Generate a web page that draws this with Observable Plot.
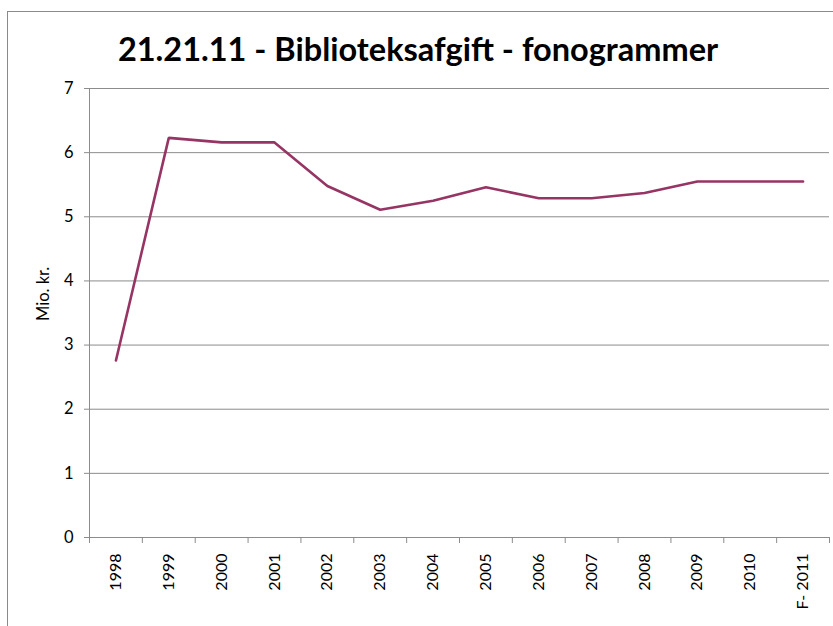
<!DOCTYPE html>
<html>
<head>
<meta charset="utf-8">
<script src="https://cdn.jsdelivr.net/npm/d3@7"></script>
<script src="https://cdn.jsdelivr.net/npm/@observablehq/plot@0.6"></script>
<style>
  html, body { margin: 0; padding: 0; background: #fff; overflow: hidden; }
  #wrap { position: relative; width: 833px; height: 626px; }
  #border { position: absolute; left: 7px; top: 11px; width: 900px; height: 700px;
            border-left: 1.5px solid #8a8a8a; border-top: 1.5px solid #8a8a8a; }
  #title { position: absolute; left: 0; top: 29px; width: 836px; text-align: center;
           font-family: Lato, sans-serif; font-weight: 700; font-size: 32.5px; color: #000; }
  #chart { position: absolute; left: 0; top: 0; }
</style>
</head>
<body>
<div id="wrap">
  <div id="border"></div>
  <div id="title">21.21.11 - Biblioteksafgift - fonogrammer</div>
  <div id="chart"></div>
</div>
<script>
const categories = ["1998","1999","2000","2001","2002","2003","2004","2005","2006","2007","2008","2009","2010","F- 2011"];
const values = [2.76, 6.23, 6.16, 6.16, 5.48, 5.11, 5.25, 5.46, 5.29, 5.29, 5.37, 5.55, 5.55, 5.55];
const yTicks = [0, 1, 2, 3, 4, 5, 6, 7];
const yLabel = "Mio. kr.";

const data = categories.map((c, i) => ({idx: i + 0.5, cat: c, value: values[i]}));
const edges = d3.range(categories.length + 1);
const centers = categories.map((c, i) => i + 0.5);

const grid = "#8c8c8c";
const plot = Plot.plot({
  width: 833,
  height: 626,
  marginLeft: 89,
  marginRight: 4,
  marginTop: 88,
  marginBottom: 89,
  style: {fontFamily: "Lato, sans-serif", background: "transparent", color: "#000"},
  x: {type: "linear", domain: [0, categories.length]},
  y: {domain: [0, 7]},
  marks: [
    Plot.gridY(yTicks, {stroke: grid, strokeOpacity: 1, strokeWidth: 1}),
    Plot.ruleX([0], {stroke: grid, strokeWidth: 1}),
    Plot.ruleY([0], {stroke: grid, strokeWidth: 1}),
    Plot.axisY({ticks: yTicks, tickSize: 5, tickPadding: 11, stroke: grid, fontSize: 16.5,
                tickFormat: "d", label: null}),
    Plot.axisX({ticks: edges, tickSize: 6, stroke: grid, tickFormat: () => "", label: null}),
    Plot.axisX({ticks: centers, tickSize: 0, tickPadding: 16, tickRotate: -90, fontSize: 16,
                tickFormat: (d) => categories[Math.round(d - 0.5)], label: null}),
    Plot.text([yLabel], {frameAnchor: "left", rotate: -90, dx: -46, dy: 8, fontSize: 16.5, fill: "#000"}),
    Plot.line(data, {x: "idx", y: "value", stroke: "#963463", strokeWidth: 2.6, strokeLinejoin: "miter"})
  ]
});
document.getElementById("chart").appendChild(plot);
</script>
</body>
</html>
